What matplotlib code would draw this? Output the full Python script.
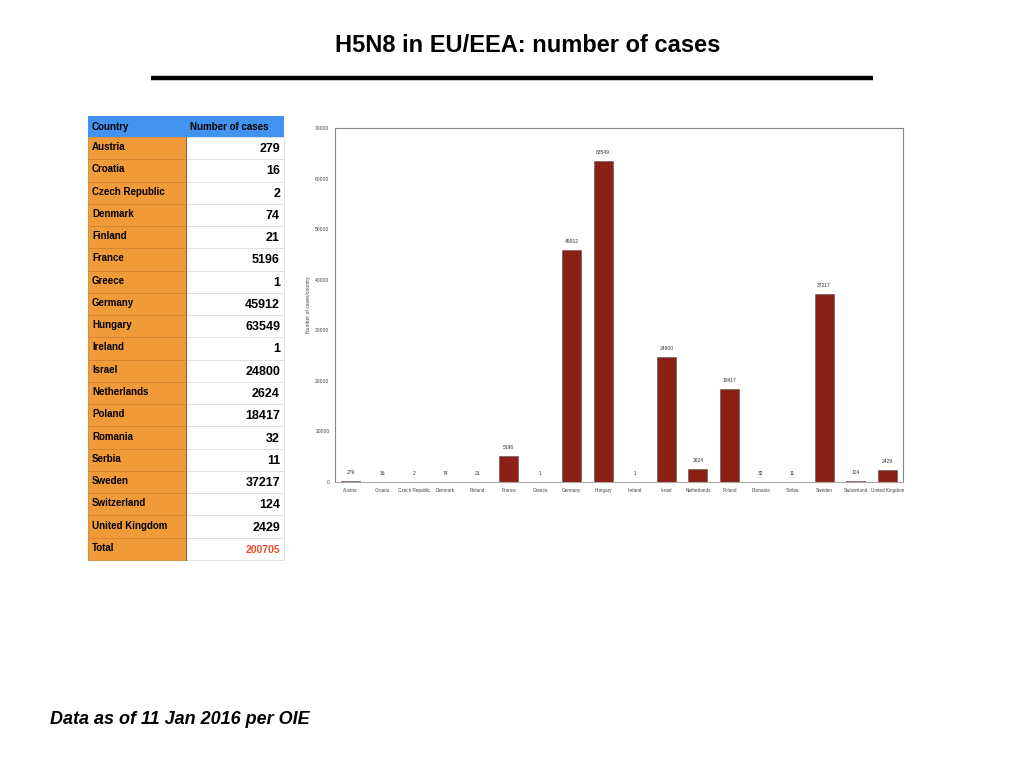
import matplotlib
matplotlib.use("Agg")
import matplotlib.pyplot as plt
from matplotlib.patches import Rectangle

plt.rcParams['font.family'] = ['Liberation Sans', 'DejaVu Sans']

countries = ["Austria", "Croatia", "Czech Republic", "Denmark", "Finland", "France",
             "Greece", "Germany", "Hungary", "Ireland", "Israel", "Netherlands",
             "Poland", "Romania", "Serbia", "Sweden", "Switzerland", "United Kingdom"]
cases = [279, 16, 2, 74, 21, 5196, 1, 45912, 63549, 1, 24800, 2624,
         18417, 32, 11, 37217, 124, 2429]
total_label = "Total"
total_value = 200705

W, H = 1024, 768
fig = plt.figure(figsize=(W / 100, H / 100), dpi=100)

# overlay in pixel coordinates for title, rule and table
ov = fig.add_axes([0, 0, 1, 1])
ov.set_xlim(0, W)
ov.set_ylim(H, 0)
ov.axis("off")

ov.text(528, 45, "H5N8 in EU/EEA: number of cases", ha="center", va="center",
        fontsize=17, fontweight="bold")
ov.plot([151, 873], [78, 78], color="black", lw=3.2, solid_capstyle="butt")
ov.text(50, 720, "Data as of 11 Jan 2016 per OIE", ha="left", va="center",
        fontsize=13, fontweight="bold", style="italic")

# table
x0, xm, x1 = 88, 186, 284
top, head_h = 116, 21
row_h = (560 - 137) / 19
ov.add_patch(Rectangle((x0, top), x1 - x0, head_h, color="#4293f0", lw=0))
ov.text(92, top + head_h / 2, "Country", ha="left", va="center", fontsize=7, fontweight="bold")
ov.text(190, top + head_h / 2, "Number of cases", ha="left", va="center", fontsize=7, fontweight="bold")

rows = list(zip(countries, cases)) + [(total_label, total_value)]
for i, (name, val) in enumerate(rows):
    y = top + head_h + i * row_h
    ov.add_patch(Rectangle((x0, y), xm - x0, row_h, facecolor="#f09a3a", edgecolor="#d08530", lw=0.6))
    ov.add_patch(Rectangle((xm, y), x1 - xm, row_h, facecolor="white", edgecolor="#dddddd", lw=0.6))
    ov.text(92, y + row_h / 2 - 1, name, ha="left", va="center", fontsize=7, fontweight="bold")
    is_total = name == total_label
    ov.text(280, y + row_h / 2 + 1, str(val), ha="right", va="center",
            fontsize=7.5 if is_total else 9, fontweight="bold",
            color="#f04a2a" if is_total else "black")
ov.plot([xm, xm], [137, 560], color="#8a6a40", lw=0.8)

# bar chart
ax = fig.add_axes([335 / W, (H - 482) / H, 568 / W, 354 / H])
xs = range(len(countries))
bars = ax.bar(xs, cases, width=0.6, color="#8b2014", edgecolor="#555555", linewidth=0.4)
for x, v in zip(xs, cases):
    ax.text(x, v + 1200, str(v), ha="center", va="bottom", fontsize=3.6, color="#333333")
ax.set_xlim(-0.5, len(countries) - 0.5)
ax.set_ylim(0, 70000)
ax.set_yticks(range(0, 70001, 10000))
ax.set_xticks(list(xs))
ax.set_xticklabels(countries)
ax.tick_params(axis="both", labelsize=3.6, length=0, pad=4, colors="#444444")
ax.tick_params(axis="x", labelsize=3.3)
ax.set_ylabel("Number of cases/country", fontsize=3.6, color="#444444", labelpad=3)
for s in ax.spines.values():
    s.set_color("#888888")
    s.set_linewidth(0.8)
ax.spines["bottom"].set_color("#aaaaaa")

fig.savefig("out.png", dpi=100)
